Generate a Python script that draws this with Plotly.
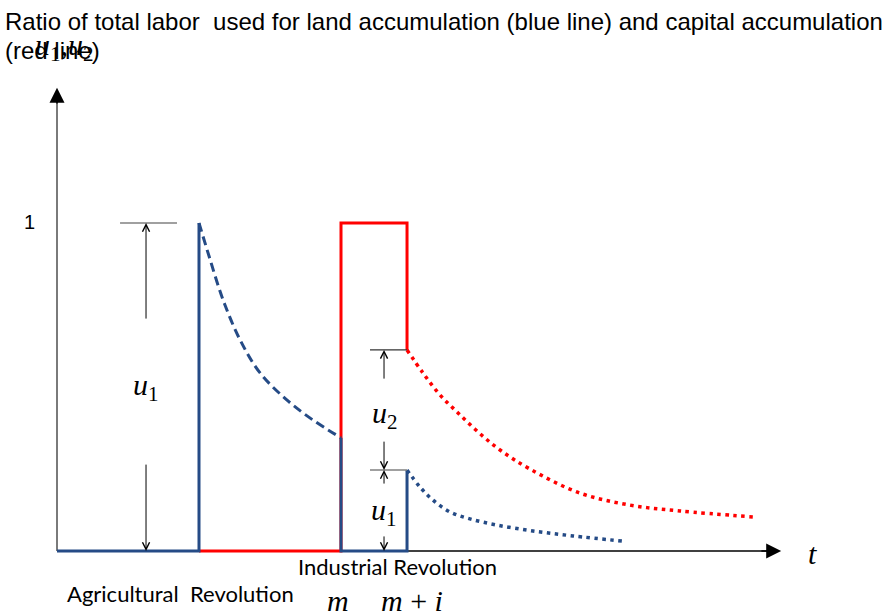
import plotly.graph_objects as go

# ---------------- data (t in arbitrary time units, u = labour share) ----------------
t_agri = 10.0          # Agricultural Revolution
t_m = 20.0             # m  (Industrial Revolution start)
t_mi = 24.65           # m + i

# blue: land accumulation
blue_dash_t = [10.0, 10.7, 11.7, 12.9, 14.3, 16.2, 18.0, 20.0]
blue_dash_u = [1.0, 0.90, 0.765, 0.643, 0.543, 0.46, 0.40, 0.345]
blue_dot_t = [24.65, 25.56, 26.48, 27.68, 29.08, 30.99, 33.52, 36.34, 39.86]
blue_dot_u = [0.247, 0.195, 0.155, 0.119, 0.098, 0.079, 0.061, 0.046, 0.030]

# red: capital accumulation
red_dot_t = [24.65, 25.77, 26.97, 28.24, 29.65, 31.2, 33.3, 36.8, 40.35, 43.87, 49.0]
red_dot_u = [0.613, 0.543, 0.476, 0.421, 0.363, 0.308, 0.250, 0.177, 0.140, 0.122, 0.104]

u_top = 1.0
u1_after = blue_dot_u[0]
u2_after = red_dot_u[0]
u_blue_at_m = blue_dash_u[-1]

BLUE = "#254B86"
RED = "#FF0000"
SERIF = "Liberation Serif"
SANS = "Liberation Sans"

fig = go.Figure()

def line(x, y, color, width=3, dash="solid", shape="linear"):
    fig.add_trace(go.Scatter(x=x, y=y, mode="lines",
                             line=dict(color=color, width=width, dash=dash, shape=shape),
                             hoverinfo="skip", showlegend=False))

# axes (lines as traces so curves sit on top)
line([0, 50.3], [0, 0], "black", width=1.3)
line([0, 0], [0, 1.38], "#595959", width=1.6)

# red solid
line([t_agri, t_m, t_m, t_mi, t_mi], [0, 0, u_top, u_top, u2_after], RED)
# blue solid
line([0, t_agri, t_agri], [0, 0, u_top], BLUE)
line([t_m, t_m, t_mi, t_mi], [u_blue_at_m, 0, 0, u1_after], BLUE)
# curves
line(blue_dash_t, blue_dash_u, BLUE, dash="9px,5px", shape="spline")
line(blue_dot_t, blue_dot_u, BLUE, width=3.5, dash="3.5px,4.5px", shape="spline")
line(red_dot_t, red_dot_u, RED, width=3.5, dash="3.5px,4.5px", shape="spline")

# extension ticks for dimensions
line([4.44, 8.45], [u_top, u_top], "#808080", width=1.5)
line([22.04, t_mi], [u2_after, u2_after], "#333333", width=1.2)
line([22.04, t_mi], [u1_after, u1_after], "#808080", width=1.5)

ann = []
def arrow(x, y, ax, ay, head=5, size=1.4, width=1.0, color="black"):
    ann.append(dict(x=x, y=y, ax=ax, ay=ay, xref="x", yref="y", axref="x", ayref="y",
                    text="", showarrow=True, arrowhead=head, arrowsize=size,
                    arrowwidth=width, arrowcolor=color, standoff=0, startstandoff=0))

# axis arrowheads
arrow(51.0, 0, 49.5, 0, head=2, size=2.0, width=1.5)
arrow(0, 1.412, 0, 1.36, head=2, size=2.0, width=1.5)

# dimension arrows u1 (left)
xd = 6.27
arrow(xd, u_top, xd, 0.704)
arrow(xd, 0, xd, 0.268)
# dimension arrows u2, u1 (right)
xr = 23.03
arrow(xr, u2_after, xr, 0.521)
arrow(xr, u1_after, xr, 0.338)
arrow(xr, u1_after, xr, 0.201)
arrow(xr, 0, xr, 0.049)

def text(x, y, s, size, family, xanchor="center", yanchor="middle", ref="data"):
    d = dict(x=x, y=y, text=s, showarrow=False, xanchor=xanchor, yanchor=yanchor,
             font=dict(size=size, family=family, color="black"))
    if ref == "paper":
        d.update(xref="paper", yref="paper")
    else:
        d.update(xref="x", yref="y")
    ann.append(d)

W, H = 884, 615
def px(xp, yp):
    return xp / W, 1 - yp / H

text(*px(3, 22), "Ratio of total labor  used for land accumulation (blue line) and capital accumulation",
     24, SANS, xanchor="left", ref="paper")
text(*px(3, 50), "(red line)", 24, SANS, xanchor="left", ref="paper")

text(*px(64, 47), "<i>u</i><sub>1</sub>,<i>u</i><sub>2</sub>", 30, SERIF, ref="paper")
text(*px(30, 222), "1", 20, SANS, ref="paper")
text(xd, 0.50, "<i>u</i><sub>1</sub>", 30, SERIF)
text(xr + 0.1, 0.415, "<i>u</i><sub>2</sub>", 30, SERIF)
text(xr, 0.12, "<i>u</i><sub>1</sub>", 30, SERIF)
text(*px(812, 553), "<i>t</i>", 30, SERIF, ref="paper")
text(*px(338, 600), "<i>m</i>", 30, SERIF, ref="paper")
text(*px(412, 600), "<i>m</i> + <i>i</i>", 30, SERIF, ref="paper")
text(*px(397, 566), "Industrial Revolution", 22, "Lato", ref="paper")
text(*px(180, 593), "Agricultural  Revolution", 22, "Lato", ref="paper")

fig.update_layout(
    width=W, height=H, margin=dict(l=0, r=0, t=0, b=0, autoexpand=False),
    paper_bgcolor="white", plot_bgcolor="white",
    xaxis=dict(range=[-57 / 14.2, (884 - 57) / 14.2], visible=False, fixedrange=True),
    yaxis=dict(range=[(551 - 615) / 328, 551 / 328], visible=False, fixedrange=True),
    annotations=ann, showlegend=False,
)
fig.write_html("out.html", config={"displayModeBar": False},
               post_script="document.body.style.margin='0px';document.body.style.padding='0px';")
